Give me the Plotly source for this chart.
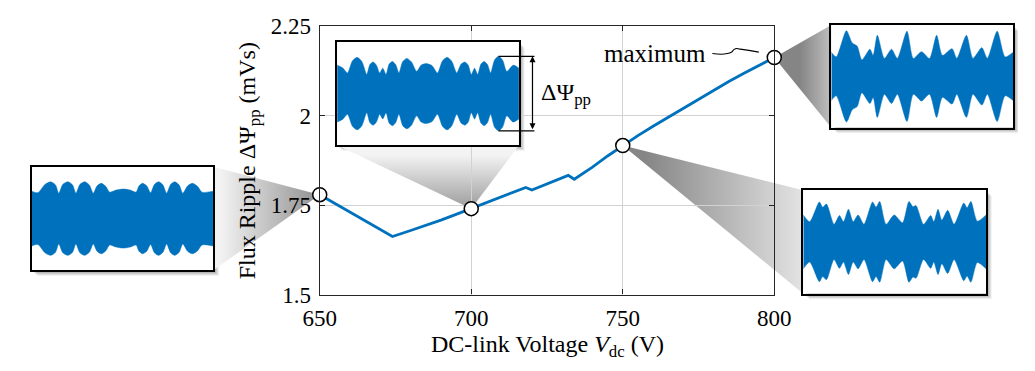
import plotly.graph_objects as go

W, H = 1035, 371

# ---------------- data ----------------
voltage = [650, 655, 660, 665, 670, 674, 680, 685, 690, 695, 700, 705, 710, 715, 718,
           720, 725, 730, 732, 734, 740, 745, 750, 755, 760, 765, 770, 775, 780, 785,
           790, 795, 800]
ripple = [1.779, 1.755, 1.731, 1.706, 1.682, 1.662, 1.679, 1.693, 1.708, 1.724, 1.740,
          1.756, 1.773, 1.789, 1.799, 1.792, 1.809, 1.826, 1.833, 1.822, 1.856, 1.887,
          1.916, 1.944, 1.970, 1.995, 2.020, 2.045, 2.071, 2.095, 2.118, 2.140, 2.162]
marked_voltage = [650, 700, 750, 800]

x_tick_vals = [650, 700, 750, 800]
x_tick_text = ["650", "700", "750", "800"]
y_tick_vals = [1.5, 1.75, 2.0, 2.25]
y_tick_text = ["1.5", "1.75", "2", "2.25"]

# waveform envelopes shown in the zoom insets (time in % of window, normalised amplitude)
inset650_t = [0, 3.5, 7.4, 10.6, 13.2, 15.0, 17.2, 20.0, 22.6, 24.4, 26.6, 29.2, 31.8,
              34.0, 36.0, 38.4, 40.9, 43.0, 46.5, 50.4, 54.3, 57.5, 59.1, 61.1, 63.4,
              65.5, 67.6, 69.9, 72.3, 74.3, 76.5, 78.8, 81.2, 83.2, 85.8, 88.5, 91.4,
              93.8, 100]
inset650_env = [0.53, 0.50, 0.66, 0.71, 0.65, 0.49, 0.66, 0.71, 0.65, 0.49, 0.66, 0.71,
                0.65, 0.49, 0.63, 0.68, 0.62, 0.51, 0.55, 0.57, 0.55, 0.51, 0.63, 0.68,
                0.63, 0.50, 0.66, 0.71, 0.65, 0.49, 0.66, 0.71, 0.65, 0.49, 0.63, 0.68,
                0.62, 0.51, 0.53]

inset700_t = [0, 3.0, 5.7, 8.4, 11.0, 13.6, 16.3, 18.0, 19.8, 21.6, 23.4, 25.1, 26.9,
              28.6, 30.4, 32.2, 34.0, 36.1, 38.4, 40.9, 43.7, 46.2, 49.0, 52.2, 55.2,
              57.9, 60.5, 63.1, 65.8, 68.2, 70.3, 72.1, 73.8, 75.6, 77.3, 79.1, 80.9,
              82.7, 84.4, 86.6, 88.8, 91.1, 93.3, 96.8, 100]
inset700_env = [0.55, 0.50, 0.40, 0.63, 0.70, 0.62, 0.37, 0.56, 0.61, 0.55, 0.40, 0.49,
                0.37, 0.57, 0.62, 0.56, 0.40, 0.62, 0.68, 0.61, 0.43, 0.55, 0.58, 0.54,
                0.40, 0.63, 0.70, 0.62, 0.40, 0.57, 0.61, 0.55, 0.37, 0.49, 0.37, 0.57,
                0.62, 0.56, 0.40, 0.65, 0.72, 0.64, 0.43, 0.55, 0.49]

inset750_t = [0, 3.5, 8.8, 10.6, 12.7, 16.8, 19.8, 22.0, 24.7, 27.3, 30.0, 33.2, 37.9,
              39.8, 41.8, 45.3, 49.7, 54.3, 57.8, 60.0, 61.7, 65.8, 69.7, 71.4, 73.7,
              75.8, 79.0, 82.5, 87.8, 89.6, 91.7, 95.2, 100]
inset750_env = [0.52, 0.39, 0.77, 0.67, 0.73, 0.34, 0.51, 0.39, 0.63, 0.39, 0.52, 0.34,
                0.77, 0.67, 0.78, 0.34, 0.52, 0.37, 0.78, 0.68, 0.70, 0.34, 0.51, 0.39,
                0.63, 0.42, 0.61, 0.34, 0.75, 0.66, 0.78, 0.40, 0.52]

inset800_t = [0, 2.7, 8.3, 11.5, 14.2, 16.8, 21.2, 23.0, 25.3, 29.2, 33.1, 36.3, 41.6,
              45.1, 49.6, 54.0, 57.9, 61.1, 66.4, 69.0, 74.3, 77.9, 82.8, 85.8, 91.2,
              95.6, 100]
inset800_env = [0.47, 0.38, 0.89, 0.65, 0.59, 0.32, 0.53, 0.41, 0.80, 0.35, 0.53, 0.35,
                0.88, 0.35, 0.48, 0.35, 0.80, 0.41, 0.54, 0.35, 0.80, 0.35, 0.56, 0.35,
                0.88, 0.38, 0.47]

# ---------------- layout geometry (pixels) ----------------
MAIN_BOX = (313, 15, 783, 303)           # left, top, right, bottom
X_RANGE = (650, 800)
Y_RANGE = (1.5, 2.25)
BLUE = "#0072BD"
AXC = "#262626"
FONT = "Liberation Serif, Times New Roman, DejaVu Serif, serif"

INSETS = [  # marked voltage, box (l, t, r, b), side where the inset sits, data
    dict(v=650, box=(15, 166, 203, 277), side="left", t=inset650_t, env=inset650_env),
    dict(v=700, box=(331, 32, 519, 143), side="top", t=inset700_t, env=inset700_env),
    dict(v=750, box=(813, 191, 1002, 302), side="right", t=inset750_t, env=inset750_env),
    dict(v=800, box=(842, 14, 1030, 124), side="right", t=inset800_t, env=inset800_env),
]


def to_px(v, r):
    l, t, rr, b = MAIN_BOX
    x = l + (v - X_RANGE[0]) / (X_RANGE[1] - X_RANGE[0]) * (rr - l)
    y = b - (r - Y_RANGE[0]) / (Y_RANGE[1] - Y_RANGE[0]) * (b - t)
    return x, y


def dom(box):
    l, t, r, b = box
    return [l / W, r / W], [1 - b / H, 1 - t / H]


fig = go.Figure()

# ---------- canvas subplot (x / y): zoom cones, in pixel units ----------
for ins in INSETS:
    r_val = ripple[voltage.index(ins["v"])]
    vx, vy = to_px(ins["v"], r_val)
    l, t, r, b = ins["box"]
    if ins["side"] == "left":
        cx, cy = [r, r], [t, b]
        grad = dict(type="horizontal", start=vx, stop=r)
    elif ins["side"] == "top":
        cx, cy = [l, r], [b, b]
        grad = dict(type="vertical", start=vy, stop=b)
    else:
        cx, cy = [l, l], [t, b]
        grad = dict(type="horizontal", start=vx, stop=l)
    grad["colorscale"] = [[0, "#858585"], [1, "#f3f3f3"]]
    fig.add_trace(go.Scatter(
        x=[vx, cx[0], cx[1], vx], y=[vy, cy[0], cy[1], vy],
        mode="lines", line=dict(width=0), fill="toself", fillgradient=grad,
        xaxis="x", yaxis="y", hoverinfo="skip", showlegend=False))

# ---------- main subplot (x2 / y2) ----------
fig.add_trace(go.Scatter(
    x=voltage, y=ripple, mode="lines", line=dict(color=BLUE, width=2.8),
    xaxis="x2", yaxis="y2", showlegend=False))
fig.add_trace(go.Scatter(
    x=marked_voltage, y=[ripple[voltage.index(v)] for v in marked_voltage],
    mode="markers", marker=dict(size=14, color="white", line=dict(color="black", width=1.5)),
    cliponaxis=False, xaxis="x2", yaxis="y2", showlegend=False))

# ---------- inset subplots ----------
shapes = []
for k, ins in enumerate(INSETS):
    n = k + 3
    xa, ya = f"x{n}", f"y{n}"
    fig.add_trace(go.Scatter(
        x=ins["t"], y=ins["env"], mode="lines",
        line=dict(color=BLUE, width=0.5, shape="spline", smoothing=0.7),
        xaxis=xa, yaxis=ya, showlegend=False, hoverinfo="skip"))
    fig.add_trace(go.Scatter(
        x=ins["t"], y=[-e for e in ins["env"]], mode="lines",
        line=dict(color=BLUE, width=0.5, shape="spline", smoothing=0.7),
        fill="tonexty", fillcolor=BLUE,
        xaxis=xa, yaxis=ya, showlegend=False, hoverinfo="skip"))
    xd, yd = dom(ins["box"])
    common = dict(showgrid=False, zeroline=False, showticklabels=False, ticks="",
                  showline=True, mirror=True, linecolor="black", linewidth=1.5, fixedrange=True)
    fig.layout[f"xaxis{n}"] = dict(domain=xd, range=[0, 100], anchor=ya, **common)
    fig.layout[f"yaxis{n}"] = dict(domain=yd, range=[-1, 1], anchor=xa, **common)
    # white inset background
    shapes.append(dict(type="rect", xref=xa, yref=ya, x0=0, x1=100, y0=-1, y1=1,
                       fillcolor="white", line=dict(width=0), layer="below"))
    # drop shadow
    l, t, r, b = ins["box"]
    for off, op in [(2, 0.10), (3, 0.09), (4, 0.08), (5, 0.07), (6, 0.05)]:
        shapes.append(dict(type="rect", xref="x", yref="y", x0=l + off, x1=r + off,
                           y0=t + off, y1=b + off, line=dict(width=0),
                           fillcolor=f"rgba(0,0,0,{op})", layer="below"))

# ---------- delta-psi bracket on the 700 V inset ----------
ins_b = INSETS[1]
l, t, r, b = ins_b["box"]
amp = max(ins_b["env"])
y_top = (t + b) / 2 - amp * (b - t) / 2
y_bot = (t + b) / 2 + amp * (b - t) / 2
x_peak = l + ins_b["t"][ins_b["env"].index(amp)] / 100 * (r - l)
for yy in (y_top, y_bot):
    shapes.append(dict(type="line", xref="x", yref="y", x0=x_peak, x1=r + 16, y0=yy, y1=yy,
                       line=dict(color="black", width=1.2), layer="above"))
shapes.append(dict(type="path", xref="x", yref="y",
                   path="M 719 44.5 Q 733 46.5 739 43 Q 742 38 746 39.5 Q 757 41 767 43",
                   line=dict(color="black", width=1.1), layer="above"))

annotations = [
    dict(xref="x", yref="y", x=r + 14, y=y_top, axref="x", ayref="y", ax=r + 14, ay=y_bot,
         text="", showarrow=True, arrowside="end+start", arrowhead=2, arrowsize=1,
         arrowwidth=1.2, arrowcolor="black", standoff=0, startstandoff=0),
    dict(xref="x", yref="y", x=r + 21, y=(y_top + y_bot) / 2, xanchor="left", yanchor="middle",
         text="ΔΨ<sub>pp</sub>", showarrow=False, font=dict(size=24)),
    dict(xref="x", yref="y", x=714, y=45, xanchor="right", yanchor="middle",
         text="maximum", showarrow=False, font=dict(size=25)),
    dict(xref="x", yref="y", x=(MAIN_BOX[0] + MAIN_BOX[2]) / 2, y=358, xanchor="center",
         yanchor="middle", text="DC-link Voltage <i>V</i><sub>dc</sub> (V)",
         showarrow=False, font=dict(size=24)),
    dict(xref="x", yref="y", x=240, y=160, xanchor="center", yanchor="middle",
         text="Flux Ripple ΔΨ<sub>pp</sub> (mVs)", textangle=-90,
         showarrow=False, font=dict(size=24)),
]

mx, my = dom(MAIN_BOX)
fig.update_layout(
    width=W, height=H, margin=dict(l=0, r=0, t=0, b=0),
    paper_bgcolor="white", plot_bgcolor="rgba(0,0,0,0)",
    font=dict(family=FONT, size=23, color="black"),
    showlegend=False,
    xaxis=dict(domain=[0, 1], range=[0, W], visible=False, fixedrange=True, anchor="y"),
    yaxis=dict(domain=[0, 1], range=[H, 0], visible=False, fixedrange=True, anchor="x"),
    xaxis2=dict(domain=mx, range=list(X_RANGE), anchor="y2", tickvals=x_tick_vals,
                ticktext=x_tick_text, ticks="inside", ticklen=5, tickcolor=AXC,
                showline=True, mirror="ticks", linecolor=AXC, linewidth=1.3,
                showgrid=True, gridcolor="#d2d2d2", gridwidth=1, zeroline=False,
                tickfont=dict(family=FONT, size=23, color="black"), ticklabelstandoff=3),
    yaxis2=dict(domain=my, range=list(Y_RANGE), anchor="x2", tickvals=y_tick_vals,
                ticktext=y_tick_text, ticks="inside", ticklen=5, tickcolor=AXC,
                showline=True, mirror="ticks", linecolor=AXC, linewidth=1.3,
                showgrid=True, gridcolor="#d2d2d2", gridwidth=1, zeroline=False,
                tickfont=dict(family=FONT, size=23, color="black"), ticklabelstandoff=3),
    shapes=shapes,
    annotations=annotations,
)

fig.write_html("out.html")
